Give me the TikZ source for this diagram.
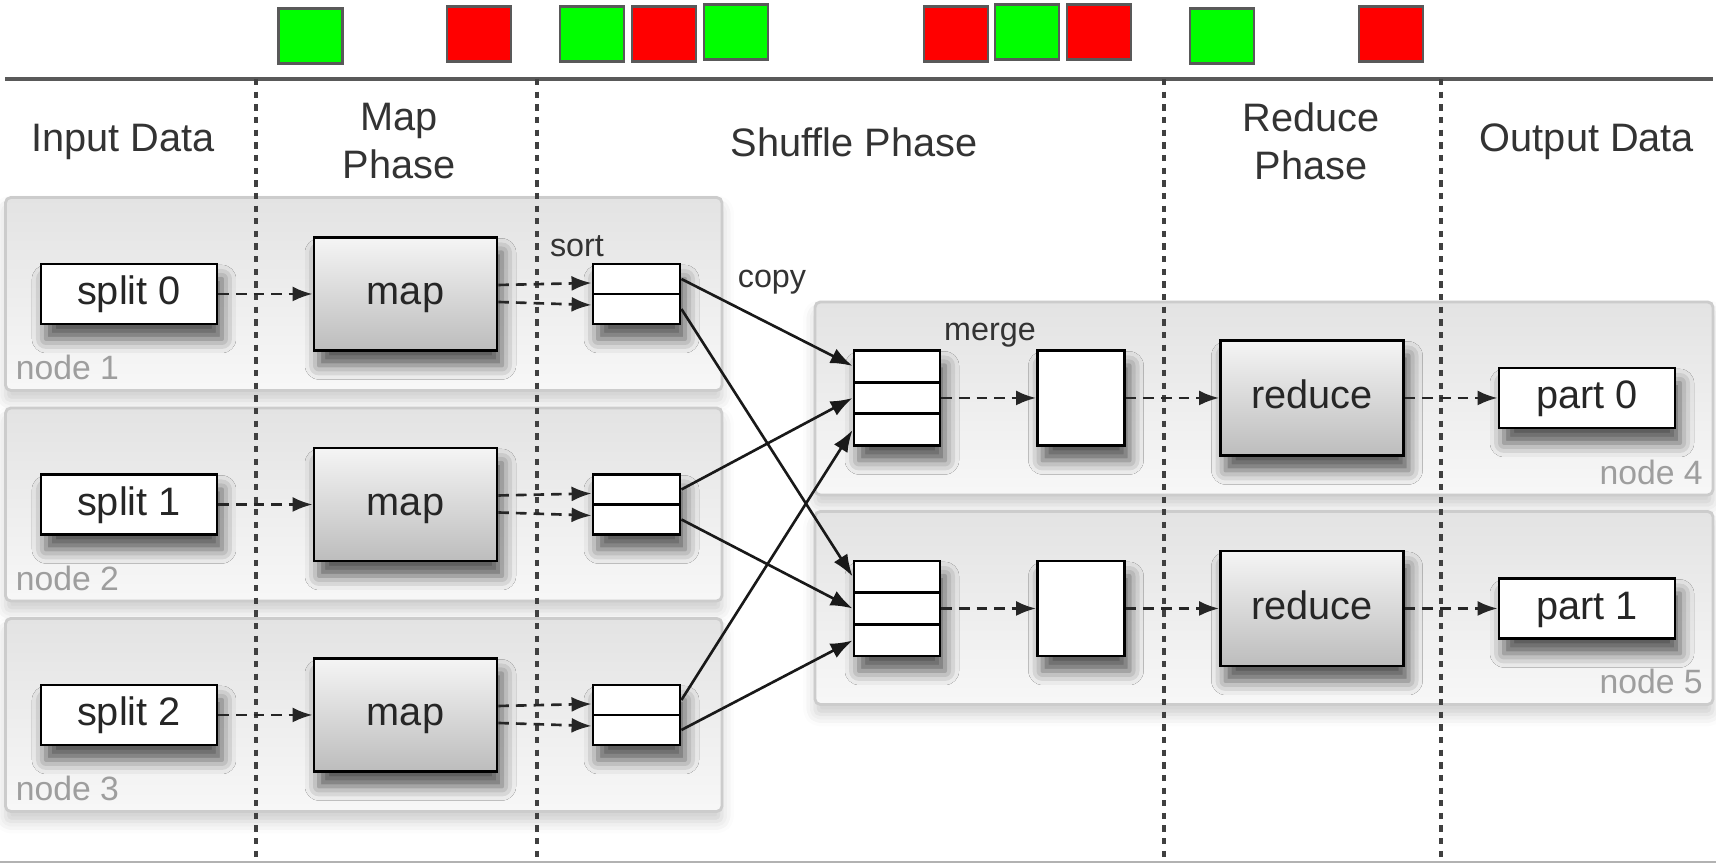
\documentclass[tikz,border=0pt]{standalone}
\usepackage{fontspec}
\setmainfont{Liberation Sans}
\usetikzlibrary{arrows.meta,shadows.blur}
\definecolor{okgreen}{RGB}{0,255,0}
\definecolor{badred}{RGB}{255,0,0}
\begin{document}
\begin{tikzpicture}[
  font=\fontsize{11.3}{13.6}\selectfont,
  softshadow/.style={blur shadow={shadow xshift=0.5mm,shadow yshift=-1.5mm,shadow blur radius=1.4mm,shadow opacity=65}},
  host/.style={draw=black!20,line width=0.8pt,rounded corners=1.5pt,top color=black!11,bottom color=black!3,
    blur shadow={shadow xshift=0mm,shadow yshift=-1mm,shadow blur radius=1.2mm,shadow opacity=20}},
  hostname/.style={text=black!38,font=\fontsize{9.6}{11}\selectfont,inner sep=0pt},
  plain/.style={draw=black,line width=0.8pt,fill=white,text=black!85,inner sep=0pt,text height=1.55ex,text depth=0.4ex,softshadow},
  task/.style={plain,top color=black!4,bottom color=black!26},
  sortbox/.style={plain,minimum width=8.7mm,minimum height=6mm,
    path picture={\draw[line width=0.8pt] (path picture bounding box.west) -- (path picture bounding box.east);}},
  mergebox/.style={plain,minimum width=8.6mm,minimum height=9.5mm,
    path picture={\draw[line width=0.8pt] ([yshift=-3.17mm]path picture bounding box.north west) -- ([yshift=-3.17mm]path picture bounding box.north east)
      ([yshift=3.17mm]path picture bounding box.south west) -- ([yshift=3.17mm]path picture bounding box.south east);}},
  flag/.style={draw=black!65,line width=0.6pt,minimum width=6.4mm,minimum height=5.5mm,inner sep=0pt},
  flow/.style={densely dashed,line width=0.75pt,black!85,-{Latex[length=2mm,width=1.5mm]}},
  copyline/.style={line width=0.75pt,black!90,-{Latex[length=2.2mm,width=1.6mm]}},
  phase/.style={text=black!80,align=center},
  small/.style={text=black!80,font=\fontsize{9.2}{11}\selectfont}
]
\useasboundingbox (0,0) rectangle (17.16,8.64);
%\draw[step=1cm,very thin,color=gray] (0,0) grid (17,8);

% status flags along the top
\foreach \x/\y/\c [count=\i] in {3.105/8.28/okgreen, 4.79/8.30/badred, 5.92/8.30/okgreen, 6.64/8.30/badred, 7.36/8.32/okgreen,
    9.56/8.30/badred, 10.27/8.32/okgreen, 10.99/8.32/badred, 12.22/8.28/okgreen, 13.91/8.30/badred}
  \node[flag,fill=\c] (flag\i) at (\x,\y) {};

\draw[black!65,line width=1.3pt] (0.055,7.85) -- (17.13,7.85);
\draw[black!30,line width=0.5pt] (0,0.02) -- (17.16,0.02);

% phase titles
\node[phase] (tin) at (1.23,7.22) {Input Data};
\node[phase] (tmap) at (3.99,7.23) {Map\\Phase};
\node[phase] (tshuf) at (8.54,7.22) {Shuffle Phase};
\node[phase] (tred) at (13.11,7.23) {Reduce\\Phase};
\node[phase] (tout) at (15.87,7.22) {Output Data};

% machines
\foreach \y [count=\i] in {5.70,3.595,1.49} {
  \node[host,minimum width=7.165cm,minimum height=1.93cm] (host\i) at (3.6375,\y) {};
  \node[hostname,anchor=base west] (hname\i) at ([shift={(0.11,0.12)}]host\i.south west) {node \i};
}
\foreach \y [count=\i from 4] in {4.655,2.56} {
  \node[host,minimum width=8.98cm,minimum height=1.93cm] (host\i) at (12.64,\y) {};
  \node[hostname,anchor=base east] (hname\i) at ([shift={(-0.11,0.12)}]host\i.south east) {node \i};
}

% phase separators
\foreach \x [count=\i] in {2.56,5.37,11.64,14.41}
  \draw[black!75,line width=0.9pt,dash pattern=on 1.8pt off 1.8pt] (\x,7.85) -- (\x,0.02);

% map side
\foreach \y [count=\i from 0] in {5.70,3.595,1.49} {
  \node[plain,minimum width=1.76cm,minimum height=6mm] (split\i) at (1.29,\y) {split \i};
  \node[task,minimum width=1.83cm,minimum height=1.13cm] (map\i) at (4.055,\y) {map};
  \node[sortbox] (sort\i) at (6.365,\y) {};
  \draw[flow] (split\i) -- (map\i);
  \draw[flow] ([yshift=0.9mm]map\i.east) -- ([yshift=1.1mm]sort\i.west);
  \draw[flow] ([yshift=-0.8mm]map\i.east) -- ([yshift=-1.1mm]sort\i.west);
}

% reduce side
\foreach \y [count=\i from 0] in {4.66,2.555} {
  \node[mergebox] (merge\i) at (8.97,\y) {};
  \node[plain,minimum width=8.7mm,minimum height=9.5mm] (run\i) at (10.81,\y) {};
  \node[task,minimum width=1.83cm,minimum height=1.15cm] (reduce\i) at (13.12,\y) {reduce};
  \node[plain,minimum width=1.76cm,minimum height=6mm] (part\i) at (15.87,\y) {part \i};
  \draw[flow] (merge\i) -- (run\i);
  \draw[flow] (run\i) -- (reduce\i);
  \draw[flow] (reduce\i) -- (part\i);
}

% copy to the reducers
\foreach \i/\dy in {0/3.2,1/0,2/-3.2} {
  \draw[copyline] ([yshift=1.5mm]sort\i.east) -- ([yshift=\dy mm]merge0.west);
  \draw[copyline] ([yshift=-1.5mm]sort\i.east) -- ([yshift=\dy mm]merge1.west);
}

\node[small] (lsort) at (5.77,6.18) {sort};
\node[small] (lcopy) at (7.72,5.82) {copy};
\node[small] (lmerge) at (9.90,5.29) {merge};
\end{tikzpicture}
\end{document}
